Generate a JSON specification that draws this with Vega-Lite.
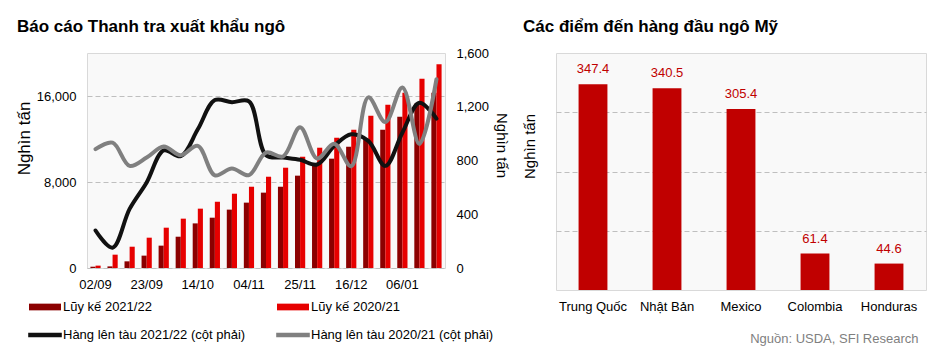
{
  "$schema": "https://vega.github.io/schema/vega-lite/v6.json",
  "padding": {"left": 14, "top": 17, "right": 5, "bottom": 5},
  "background": "white",
  "spacing": 11,
  "config": {
    "font": "Liberation Sans",
    "view": {"fill": "#f9f9f9", "stroke": "#d9d9d9"},
    "axis": {"domain": false, "ticks": false, "labelFont": "Liberation Sans", "labelFontSize": 13, "labelColor": "#000000", "titleFont": "Liberation Sans", "titleFontSize": 17, "titleFontWeight": "normal", "titleColor": "#000000", "gridColor": "#bfbfbf", "gridDash": [5, 3]},
    "title": {"font": "Liberation Sans", "fontSize": 17, "fontWeight": "bold", "color": "#000000", "anchor": "start", "frame": "group", "baseline": "alphabetic"}
  },
  "datasets": {
    "cum": [
      {"week": "02/09", "series": "Lũy kế 2021/22", "value": 120}, {"week": "02/09", "series": "Lũy kế 2020/21", "value": 220},
      {"week": "09/09", "series": "Lũy kế 2021/22", "value": 150}, {"week": "09/09", "series": "Lũy kế 2020/21", "value": 1240},
      {"week": "16/09", "series": "Lũy kế 2021/22", "value": 620}, {"week": "16/09", "series": "Lũy kế 2020/21", "value": 1980},
      {"week": "23/09", "series": "Lũy kế 2021/22", "value": 1150}, {"week": "23/09", "series": "Lũy kế 2020/21", "value": 2820},
      {"week": "30/09", "series": "Lũy kế 2021/22", "value": 2080}, {"week": "30/09", "series": "Lũy kế 2020/21", "value": 3750},
      {"week": "07/10", "series": "Lũy kế 2021/22", "value": 2910}, {"week": "07/10", "series": "Lũy kế 2020/21", "value": 4590},
      {"week": "14/10", "series": "Lũy kế 2021/22", "value": 4150}, {"week": "14/10", "series": "Lũy kế 2020/21", "value": 5520},
      {"week": "21/10", "series": "Lũy kế 2021/22", "value": 4680}, {"week": "21/10", "series": "Lũy kế 2020/21", "value": 6170},
      {"week": "28/10", "series": "Lũy kế 2021/22", "value": 5430}, {"week": "28/10", "series": "Lũy kế 2020/21", "value": 6910},
      {"week": "04/11", "series": "Lũy kế 2021/22", "value": 6080}, {"week": "04/11", "series": "Lũy kế 2020/21", "value": 7560},
      {"week": "11/11", "series": "Lũy kế 2021/22", "value": 7010}, {"week": "11/11", "series": "Lũy kế 2020/21", "value": 8490},
      {"week": "18/11", "series": "Lũy kế 2021/22", "value": 7560}, {"week": "18/11", "series": "Lũy kế 2020/21", "value": 9330},
      {"week": "25/11", "series": "Lũy kế 2021/22", "value": 8590}, {"week": "25/11", "series": "Lũy kế 2020/21", "value": 10350},
      {"week": "02/12", "series": "Lũy kế 2021/22", "value": 9550}, {"week": "02/12", "series": "Lũy kế 2020/21", "value": 11190},
      {"week": "09/12", "series": "Lũy kế 2021/22", "value": 10170}, {"week": "09/12", "series": "Lũy kế 2020/21", "value": 12120},
      {"week": "16/12", "series": "Lũy kế 2021/22", "value": 11280}, {"week": "16/12", "series": "Lũy kế 2020/21", "value": 12870},
      {"week": "23/12", "series": "Lũy kế 2021/22", "value": 12030}, {"week": "23/12", "series": "Lũy kế 2020/21", "value": 14170},
      {"week": "30/12", "series": "Lũy kế 2021/22", "value": 12870}, {"week": "30/12", "series": "Lũy kế 2020/21", "value": 15190},
      {"week": "06/01", "series": "Lũy kế 2021/22", "value": 14070}, {"week": "06/01", "series": "Lũy kế 2020/21", "value": 16300},
      {"week": "13/01", "series": "Lũy kế 2021/22", "value": 15300}, {"week": "13/01", "series": "Lũy kế 2020/21", "value": 17600},
      {"week": "20/01", "series": "Lũy kế 2021/22", "value": 16300}, {"week": "20/01", "series": "Lũy kế 2020/21", "value": 18960}
    ],
    "ship": [
      {"week": "02/09", "series": "Hàng lên tàu 2021/22 (cột phải)", "ship": 279},
      {"week": "09/09", "series": "Hàng lên tàu 2021/22 (cột phải)", "ship": 151},
      {"week": "16/09", "series": "Hàng lên tàu 2021/22 (cột phải)", "ship": 440},
      {"week": "23/09", "series": "Hàng lên tàu 2021/22 (cột phải)", "ship": 637},
      {"week": "30/09", "series": "Hàng lên tàu 2021/22 (cột phải)", "ship": 875},
      {"week": "07/10", "series": "Hàng lên tàu 2021/22 (cột phải)", "ship": 832},
      {"week": "14/10", "series": "Hàng lên tàu 2021/22 (cột phải)", "ship": 1032},
      {"week": "21/10", "series": "Hàng lên tàu 2021/22 (cột phải)", "ship": 1250},
      {"week": "28/10", "series": "Hàng lên tàu 2021/22 (cột phải)", "ship": 1234},
      {"week": "04/11", "series": "Hàng lên tàu 2021/22 (cột phải)", "ship": 1240},
      {"week": "11/11", "series": "Hàng lên tàu 2021/22 (cột phải)", "ship": 840},
      {"week": "18/11", "series": "Hàng lên tàu 2021/22 (cột phải)", "ship": 822},
      {"week": "25/11", "series": "Hàng lên tàu 2021/22 (cột phải)", "ship": 805},
      {"week": "02/12", "series": "Hàng lên tàu 2021/22 (cột phải)", "ship": 770},
      {"week": "09/12", "series": "Hàng lên tàu 2021/22 (cột phải)", "ship": 908},
      {"week": "16/12", "series": "Hàng lên tàu 2021/22 (cột phải)", "ship": 995},
      {"week": "23/12", "series": "Hàng lên tàu 2021/22 (cột phải)", "ship": 946},
      {"week": "30/12", "series": "Hàng lên tàu 2021/22 (cột phải)", "ship": 760},
      {"week": "06/01", "series": "Hàng lên tàu 2021/22 (cột phải)", "ship": 1007},
      {"week": "13/01", "series": "Hàng lên tàu 2021/22 (cột phải)", "ship": 1230},
      {"week": "20/01", "series": "Hàng lên tàu 2021/22 (cột phải)", "ship": 1111},
      {"week": "02/09", "series": "Hàng lên tàu 2020/21 (cột phải)", "ship": 884},
      {"week": "09/09", "series": "Hàng lên tàu 2020/21 (cột phải)", "ship": 933},
      {"week": "16/09", "series": "Hàng lên tàu 2020/21 (cột phải)", "ship": 760},
      {"week": "23/09", "series": "Hàng lên tàu 2020/21 (cột phải)", "ship": 822},
      {"week": "30/09", "series": "Hàng lên tàu 2020/21 (cột phải)", "ship": 904},
      {"week": "07/10", "series": "Hàng lên tàu 2020/21 (cột phải)", "ship": 840},
      {"week": "14/10", "series": "Hàng lên tàu 2020/21 (cột phải)", "ship": 909},
      {"week": "21/10", "series": "Hàng lên tàu 2020/21 (cột phải)", "ship": 690},
      {"week": "28/10", "series": "Hàng lên tàu 2020/21 (cột phải)", "ship": 741},
      {"week": "04/11", "series": "Hàng lên tàu 2020/21 (cột phải)", "ship": 691},
      {"week": "11/11", "series": "Hàng lên tàu 2020/21 (cột phải)", "ship": 859},
      {"week": "18/11", "series": "Hàng lên tàu 2020/21 (cột phải)", "ship": 830},
      {"week": "25/11", "series": "Hàng lên tàu 2020/21 (cột phải)", "ship": 1047},
      {"week": "02/12", "series": "Hàng lên tàu 2020/21 (cột phải)", "ship": 815},
      {"week": "09/12", "series": "Hàng lên tàu 2020/21 (cột phải)", "ship": 924},
      {"week": "16/12", "series": "Hàng lên tàu 2020/21 (cột phải)", "ship": 757},
      {"week": "23/12", "series": "Hàng lên tàu 2020/21 (cột phải)", "ship": 1270},
      {"week": "30/12", "series": "Hàng lên tàu 2020/21 (cột phải)", "ship": 1086},
      {"week": "06/01", "series": "Hàng lên tàu 2020/21 (cột phải)", "ship": 1344},
      {"week": "13/01", "series": "Hàng lên tàu 2020/21 (cột phải)", "ship": 923},
      {"week": "20/01", "series": "Hàng lên tàu 2020/21 (cột phải)", "ship": 1405}
    ],
    "dest": [
      {"country": "Trung Quốc", "value": 347.4},
      {"country": "Nhật Bản", "value": 340.5},
      {"country": "Mexico", "value": 305.4},
      {"country": "Colombia", "value": 61.4},
      {"country": "Honduras", "value": 44.6}
    ]
  },
  "hconcat": [
    {
      "width": 358,
      "height": 215,
      "title": {"text": "Báo cáo Thanh tra xuất khẩu ngô", "dx": -70, "offset": 11},
      "layer": [
        {
          "data": {"name": "cum"},
          "mark": {"type": "bar"},
          "encoding": {
            "x": {"field": "week", "type": "ordinal", "scale": {"domain": ["02/09","09/09","16/09","23/09","30/09","07/10","14/10","21/10","28/10","04/11","11/11","18/11","25/11","02/12","09/12","16/12","23/12","30/12","06/01","13/01","20/01"], "paddingInner": 0.4, "paddingOuter": 0.2}, "axis": {"title": null, "labelAngle": 0, "values": ["02/09","23/09","14/10","04/11","25/11","16/12","06/01"], "labelPadding": 10}},
            "xOffset": {"field": "series", "type": "nominal", "scale": {"domain": ["Lũy kế 2021/22", "Lũy kế 2020/21"], "paddingInner": 0, "paddingOuter": 0}},
            "y": {"field": "value", "type": "quantitative", "scale": {"domain": [0, 20000], "nice": false}, "axis": {"title": "Nghìn tấn", "values": [0, 8000, 16000], "format": ",.0f", "grid": true, "labelPadding": 11, "titlePadding": 3, "titleY": 85}},
            "color": {
              "field": "series", "type": "nominal",
              "scale": {"domain": ["Lũy kế 2021/22", "Lũy kế 2020/21", "Hàng lên tàu 2021/22 (cột phải)", "Hàng lên tàu 2020/21 (cột phải)"], "range": ["#8b0000", "#e60000", "#111111", "#808080"]},
              "legend": {
                "title": null, "orient": "none", "legendX": -50, "legendY": 246, "columns": 2, "direction": "horizontal",
                "symbolType": "M-2,-0.42H2V0.42H-2Z", "symbolSize": 256, "labelOffset": 10,
                "labelFontSize": 13, "labelFont": "Liberation Sans", "labelColor": "#000000", "labelLimit": 400,
                "rowPadding": 13, "columnPadding": 30,
                "encode": {"symbols": {"update": {
                  "shape": {"signal": "indexof(datum.value, 'Lũy') === 0 ? 'M-2,-0.42H2V0.42H-2Z' : 'M-2.1,-0.27H2.1V0.27H-2.1Z'"},
                  "fill": {"signal": "datum.value === 'Lũy kế 2021/22' ? '#8b0000' : datum.value === 'Lũy kế 2020/21' ? '#e60000' : datum.value === 'Hàng lên tàu 2021/22 (cột phải)' ? '#111111' : '#808080'"},
                  "stroke": {"value": "transparent"}, "strokeWidth": {"value": 0}, "opacity": {"value": 1}}}}
              }
            }
          }
        },
        {
          "data": {"name": "ship"},
          "mark": {"type": "line", "interpolate": "catmull-rom", "strokeWidth": 4, "strokeCap": "round", "strokeJoin": "round"},
          "encoding": {
            "x": {"field": "week", "type": "ordinal"},
            "y": {"field": "ship", "type": "quantitative", "scale": {"domain": [0, 1600], "nice": false}, "axis": {"orient": "right", "title": "Nghìn tấn", "titleFontSize": 15, "values": [0, 400, 800, 1200, 1600], "format": ",.0f", "grid": false, "labelPadding": 11, "titlePadding": 5, "titleY": 92}},
            "color": {"field": "series", "type": "nominal"}
          }
        }
      ],
      "resolve": {"scale": {"y": "independent"}}
    },
    {
      "width": 370,
      "height": 237,
      "title": {"text": "Các điểm đến hàng đầu ngô Mỹ", "dx": -33, "offset": 17},
      "data": {"name": "dest"},
      "encoding": {
        "x": {"field": "country", "type": "nominal", "sort": null, "scale": {"paddingInner": 0.61, "paddingOuter": 0.305},
          "axis": {"labelAngle": 0, "labelPadding": 10, "title": "Nguồn: USDA, SFI Research", "titleColor": "#7f7f7f", "titleFontSize": 13, "titleAnchor": "end", "titleAlign": "right", "titleX": 362, "titlePadding": 19}},
        "y": {"field": "value", "type": "quantitative", "scale": {"domain": [0, 400], "nice": false},
          "axis": {"title": "Nghìn tấn", "titleFontSize": 15, "labels": false, "values": [100, 200, 300], "grid": true, "titlePadding": 19, "titleY": 93}}
      },
      "layer": [
        {"mark": {"type": "bar", "color": "#c00000"}},
        {"mark": {"type": "text", "color": "#c00000", "baseline": "bottom", "dy": -8, "fontSize": 13, "font": "Liberation Sans"},
         "encoding": {"text": {"field": "value", "type": "quantitative", "format": ".1f"}}}
      ]
    }
  ]
}
